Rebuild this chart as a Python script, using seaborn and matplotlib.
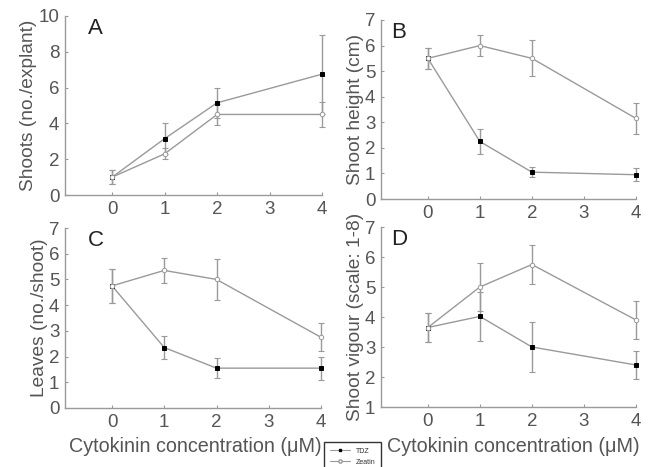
import numpy as np
import pandas as pd
import seaborn as sns
import matplotlib
matplotlib.use("Agg")
import matplotlib.pyplot as plt
from matplotlib.lines import Line2D

# cytokinin concentrations (uM)
conc = [0, 1, 2, 4]

# A: shoots per explant
shoots_tdz = [1.0, 3.15, 5.15, 6.75]
shoots_tdz_err = [0.4, 0.85, 0.85, 2.2]
shoots_zea = [1.0, 2.3, 4.5, 4.5]
shoots_zea_err = [0.4, 0.3, 0.6, 0.7]

# B: shoot height (cm)
height_tdz = [5.5, 2.25, 1.05, 0.95]
height_tdz_err = [0.4, 0.5, 0.2, 0.25]
height_zea = [5.5, 6.0, 5.5, 3.15]
height_zea_err = [0.4, 0.4, 0.7, 0.6]

# C: leaves per shoot
leaves_tdz = [4.75, 2.35, 1.55, 1.55]
leaves_tdz_err = [0.65, 0.45, 0.4, 0.45]
leaves_zea = [4.75, 5.35, 5.0, 2.75]
leaves_zea_err = [0.65, 0.5, 0.8, 0.55]

# D: shoot vigour (scale 1-8)
vigour_tdz = [3.65, 4.02, 3.0, 2.4]
vigour_tdz_err = [0.48, 0.82, 0.82, 0.47]
vigour_zea = [3.65, 5.0, 5.75, 3.9]
vigour_zea_err = [0.48, 0.8, 0.65, 0.62]

sns.set_style("ticks")
plt.rcParams['font.family'] = ['Liberation Sans', 'DejaVu Sans']

txt = '#555555'
grey = '#9a9a9a'

fig = plt.figure(figsize=(6.48, 4.67), dpi=100)
W, H = 648, 467

def add_ax(l, r, t, b):
    return fig.add_axes([l / W, 1 - b / H, (r - l) / W, (b - t) / H])

panels = [
    (add_ax(65, 322, 16, 195), 'A', 0.09, 'Shoots (no./explant)', (0, 10), [0, 2, 4, 6, 8, 10],
     shoots_tdz, shoots_tdz_err, shoots_zea, shoots_zea_err),
    (add_ax(381, 636, 20, 199), 'B', 0.04, 'Shoot height (cm)', (0, 7), range(0, 8),
     height_tdz, height_tdz_err, height_zea, height_zea_err),
    (add_ax(65, 321, 228, 408), 'C', 0.09, 'Leaves (no./shoot)', (0, 7), range(0, 8),
     leaves_tdz, leaves_tdz_err, leaves_zea, leaves_zea_err),
    (add_ax(381, 636, 227, 407), 'D', 0.04, 'Shoot vigour (scale: 1-8)', (1, 7), range(1, 8),
     vigour_tdz, vigour_tdz_err, vigour_zea, vigour_zea_err),
]

styles = [
    dict(marker='s', markersize=2.6, markerfacecolor='black', markeredgecolor='black'),
    dict(marker='o', markersize=3.2, markerfacecolor='white', markeredgecolor=grey),
]

for ax, letter, lx, ylab, ylim, yticks, tdz, tdz_e, zea, zea_e in panels:
    for vals, errs, st in ((tdz, tdz_e, styles[0]), (zea, zea_e, styles[1])):
        eb = ax.errorbar(conc, vals, yerr=errs, fmt='none', ecolor=grey,
                         elinewidth=1, capsize=2.5, capthick=0.8, zorder=1)
        for art in eb.lines[1] + eb.lines[2]:
            art.set_clip_on(False)
        sns.lineplot(x=conc, y=vals, color=grey, linewidth=1,
                     markeredgewidth=0.7, clip_on=False, zorder=2, ax=ax, **st)
    ax.set_xlim(-0.9, 4.0)
    ax.set_ylim(*ylim)
    ax.set_xticks([0, 1, 2, 3, 4])
    ax.set_yticks(list(yticks))
    ax.set_xlabel('')
    ax.set_ylabel(ylab, color=txt, fontsize=13.8, labelpad=1)
    ax.tick_params(colors=grey, labelcolor=txt, labelsize=13.5, length=2.5,
                   width=0.8, pad=4, direction='in')
    sns.despine(ax=ax)
    for s in ('left', 'bottom'):
        ax.spines[s].set_color(grey)
        ax.spines[s].set_linewidth(1)
    ax.text(lx, 0.93, letter, transform=ax.transAxes, fontsize=16,
            color='#222222', ha='left', va='center')

fig.text(195 / W, 1 - 447 / H, 'Cytokinin concentration (\u03bcM)', color=txt,
         fontsize=14.2, ha='center', va='center')
fig.text(513 / W, 1 - 447 / H, 'Cytokinin concentration (\u03bcM)', color=txt,
         fontsize=14.2, ha='center', va='center')

handles = [
    Line2D([], [], color=grey, lw=0.8, marker='s', ms=2, mfc='black', mec='black'),
    Line2D([], [], color=grey, lw=0.8, marker='o', ms=2.4, mfc='white', mec=grey),
]
leg = fig.legend(handles, ['TDZ', 'Zeatin'], loc='upper left',
                 bbox_to_anchor=(324 / W, 1 - 442 / H), fontsize=5,
                 frameon=True, fancybox=False, handlelength=3.0,
                 borderpad=0.8, labelspacing=0.6, handletextpad=0.8,
                 borderaxespad=0)
leg.get_frame().set_edgecolor('black')
leg.get_frame().set_linewidth(1)
for t in leg.get_texts():
    t.set_color('#333333')

fig.savefig('out.png', dpi=100)
